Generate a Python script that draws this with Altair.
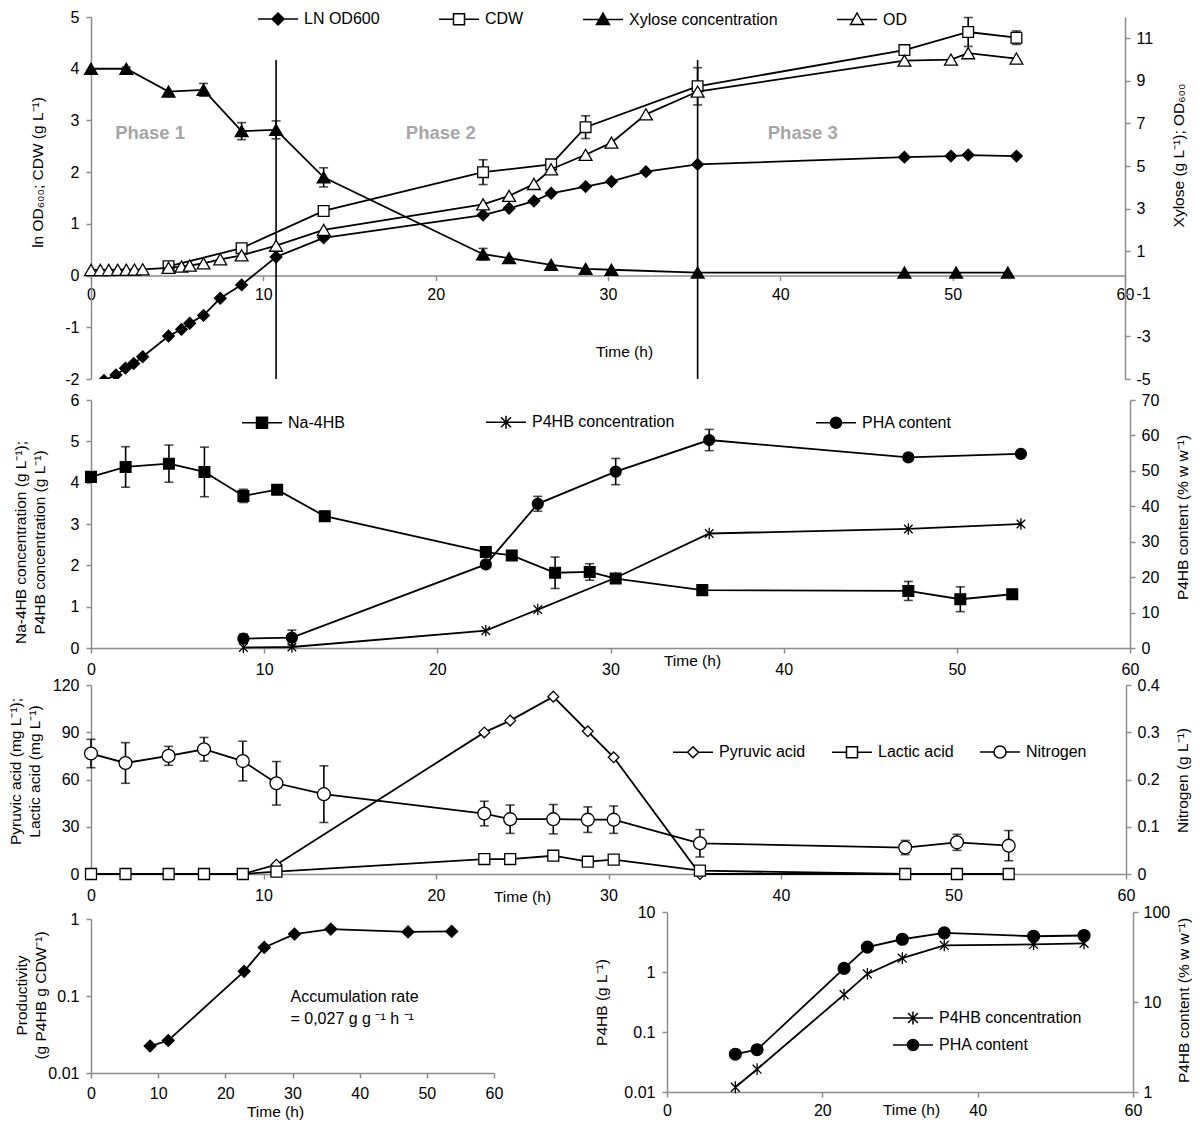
import altair as alt
import pandas as pd

FONT = "Liberation Sans"
AXIS_GREY = "#8c8c8c"
LINE_W = 1.8
MS = 1.3

# ---------------- Panel 1: growth ----------------
ln_t = [0.75, 1.45, 2.0, 2.48, 3.0, 4.5, 5.25, 5.73, 6.53, 7.5, 8.74, 10.74, 13.5,
        22.75, 24.26, 25.7, 26.7, 28.7, 30.2, 32.2, 35.2, 47.2, 49.9, 50.9, 53.7]
ln_v = [-2.03, -1.92, -1.79, -1.70, -1.57, -1.17, -1.04, -0.92, -0.77, -0.44, -0.18, 0.36, 0.73,
        1.17, 1.30, 1.44, 1.59, 1.72, 1.82, 2.01, 2.15, 2.29, 2.31, 2.33, 2.31]

od_t = [0, 0.54, 1.03, 1.55, 2.05, 2.52, 3.0, 4.5, 5.25, 5.73, 6.53, 7.5, 8.74, 10.74, 13.5,
        22.75, 24.26, 25.7, 26.7, 28.7, 30.2, 32.2, 35.2, 47.2, 49.9, 50.9, 53.7]
od_v = [0.12, 0.12, 0.12, 0.13, 0.13, 0.14, 0.15, 0.22, 0.28, 0.33, 0.43, 0.62, 0.81, 1.26, 2.0,
        3.2, 3.6, 4.16, 4.85, 5.53, 6.1, 7.43, 8.5, 9.95, 10.0, 10.3, 10.05]

cdw_t = [4.5, 8.74, 13.5, 22.75, 26.7, 28.7, 35.2, 47.2, 50.9, 53.7]
cdw_v = [0.18, 0.53, 1.25, 2.0, 2.15, 2.87, 3.66, 4.36, 4.71, 4.6]
cdw_e = [0, 0, 0, 0.24, 0, 0.22, 0.36, 0, 0.28, 0.13]

xyl_t = [0, 2.05, 4.5, 6.53, 8.74, 10.74, 13.5, 22.75, 24.26, 26.7, 28.7, 30.2, 35.2, 47.2, 50.2, 53.2]
xyl_v = [9.57, 9.57, 8.5, 8.58, 6.64, 6.7, 4.47, 0.86, 0.68, 0.36, 0.17, 0.13, 0.0, 0.0, 0.0, 0.0]
xyl_e = [0, 0.08, 0, 0.3, 0.4, 0.42, 0.45, 0.27, 0, 0, 0, 0, 0, 0, 0, 0]

phase_t = [10.74, 35.2]
phase_top = [4.17, 4.17]
phase_bottom = [-2, -2]
phase_label = ["Phase 1", "Phase 2", "Phase 3"]
phase_label_t = [3.43, 20.3, 41.3]
phase_label_v = [2.75, 2.75, 2.75]

# ---------------- Panels 2 & 3 ----------------
t_med = [0, 2.0, 4.5, 6.55, 8.8, 10.75, 13.5, 22.8, 24.3, 26.8, 28.8, 30.3, 35.3, 47.2, 50.2, 53.2]
na_v = [4.14, 4.38, 4.46, 4.26, 3.68, 3.83, 3.19, 2.32, 2.24, 1.82, 1.84, 1.68, 1.40, 1.38, 1.18, 1.30]
na_e = [0.05, 0.49, 0.45, 0.6, 0.16, 0.1, 0, 0.05, 0, 0.38, 0.2, 0, 0, 0.23, 0.3, 0]

t_pha = [8.8, 11.6, 22.8, 25.8, 30.3, 35.7, 47.2, 53.7]
p4hb_v = [0.012, 0.024, 0.42, 0.93, 1.70, 2.77, 2.88, 3.0]
pha_v = [2.63, 2.95, 23.6, 40.7, 49.8, 58.7, 53.8, 54.8]
pha_e = [1.3, 2.1, 0, 2.1, 3.7, 3.0, 0, 0]

pyr_v = [0, 0, 0, 0, 0, 5.9, None, 89.9, 97.4, 112.6, 90.6, 74.1, 0, 0, 0, 0]
lac_v = [0, 0, 0, 0, 0, 1.5, None, 9.5, 9.5, 11.6, 7.8, 9.1, 2.1, 0, 0, 0]
nit_v = [0.255, 0.235, 0.25, 0.264, 0.239, 0.192, 0.169, 0.128, 0.116, 0.116, 0.115, 0.115,
         0.065, 0.056, 0.067, 0.060]
nit_e = [0.03, 0.043, 0.02, 0.025, 0.042, 0.046, 0.06, 0.026, 0.03, 0.031, 0.027, 0.029,
         0.029, 0.015, 0.017, 0.032]

# ---------------- Panel 4 ----------------
prod_t = [8.8, 11.5, 22.8, 25.8, 30.3, 35.7, 47.2, 53.7]
prod_v = [0.0224, 0.0264, 0.209, 0.428, 0.637, 0.739, 0.68, 0.69]
ann_text = ["Accumulation rate", "= 0,027 g g \u207b\u00b9 h \u207b\u00b9"]
ann_t = [29.7, 29.7]
ann_v = [0.097, 0.0508]

# ---------------- layout ----------------
W1, H1 = 1034, 362
W2, H2 = 1039, 248
W3, H3 = 1035, 189
W4, H4 = 403, 161
W5, H5 = 466, 180

# marker paths
P_AST = "M-0.75,-0.75L0.75,0.75M-0.75,0.75L0.75,-0.75M0,-1V1"
L_DIA_F = "M-2,0H2M0,-0.6L0.6,0L0,0.6L-0.6,0Z"
L_SQ_O = "M-2,0H-0.55M0.55,0H2M-0.55,-0.55H0.55V0.55H-0.55Z"
L_TRI_F = "M-2,0H2M0,-0.65L0.65,0.5L-0.65,0.5Z"
L_TRI_O = "M-2,0H-0.37M0.37,0H2M0,-0.65L0.65,0.5L-0.65,0.5Z"
L_SQ_F = "M-2,0H2M-0.55,-0.55H0.55V0.55H-0.55Z"
L_AST = "M-2,0H2M-0.5,-0.5L0.5,0.5M-0.5,0.5L0.5,-0.5M0,-0.65V0.65"
L_CIR_F = "M-2,0H2M0.55,0A0.55,0.55,0,1,1,-0.55,0A0.55,0.55,0,1,1,0.55,0Z"
L_DIA_O = "M-2,0H-0.55M0.55,0H2M0,-0.55L0.55,0L0,0.55L-0.55,0Z"
L_CIR_O = "M-2,0H-0.6M0.6,0H2M0.6,0A0.6,0.6,0,1,1,-0.6,0A0.6,0.6,0,1,1,0.6,0Z"

LABEL_EXPR = "'' + datum.value"


def x_enc(values, titleX, titleY, offset=0, labelPadding=8):
    return alt.X("t:Q", scale=alt.Scale(domain=[0, 60], nice=False, zero=False),
                 axis=alt.Axis(values=values, title="Time (h)", titleX=titleX, titleY=titleY,
                               titleBaseline="middle", titleAlign="center", offset=offset,
                               labelPadding=labelPadding, labelFlush=False,
                               labelExpr=LABEL_EXPR))


def y_maker(domain, values, title, titleX, titleY, orient="left", stype="linear",
            labelPadding=7, rng=None):
    if rng is None:
        scale = alt.Scale(domain=domain, nice=False, zero=False, type=stype)
    else:
        scale = alt.Scale(domain=domain, nice=False, zero=False, type=stype, range=rng)
    axis = alt.Axis(orient=orient, values=values, title=title, titleX=titleX, titleY=titleY,
                    titleAngle=270, titleBaseline="middle", titleAlign="center",
                    titleLineHeight=19, labelExpr=LABEL_EXPR, labelPadding=labelPadding,
                    labelFlush=False)

    def f(field):
        return alt.Y(field, type="quantitative", scale=scale, axis=axis)
    return f


def series(x, yf, t, v, shape, fill, size, clip=False):
    rows = [(a, b) for a, b in zip(t, v) if b is not None]
    df = pd.DataFrame(rows, columns=["t", "v"])
    pt = alt.OverlayMarkDef(shape=shape, filled=True, fill=fill, stroke="black",
                            strokeWidth=MS, size=size, opacity=1, clip=clip)
    return alt.Chart(df).mark_line(color="black", strokeWidth=LINE_W, clip=clip,
                                   point=pt).encode(x=x, y=yf("v"))


def errbars(x, yf, t, v, e):
    rows = [(a, b - c, b + c) for a, b, c in zip(t, v, e) if c and c > 0]
    df = pd.DataFrame(rows, columns=["t", "lo", "hi"])
    return alt.Chart(df).mark_errorbar(ticks=True, size=9, thickness=1.6, color="black").encode(
        x=x, y=yf("lo"), y2=alt.Y2("hi"))


def legend_layer(names, paths, fills, lx, ly, direction="horizontal", colpad=60, rowpad=0):
    df = pd.DataFrame({"lg": names})
    leg = alt.Legend(title=None, orient="none", legendX=lx, legendY=ly, direction=direction,
                     columnPadding=colpad, rowPadding=rowpad, symbolSize=400,
                     symbolStrokeWidth=1.5, symbolStrokeColor="black", labelFont=FONT,
                     labelFontSize=16, labelColor="black", labelOffset=15, padding=0,
                     symbolOpacity=1)
    return alt.Chart(df).mark_point(filled=True, stroke="black", strokeWidth=1.5, opacity=1,
                                    size=400).encode(
        shape=alt.Shape("lg:N", scale=alt.Scale(domain=names, range=paths), legend=leg),
        fill=alt.Fill("lg:N", scale=alt.Scale(domain=names, range=fills), legend=leg),
        stroke=alt.Stroke("lg:N", scale=alt.Scale(domain=names, range=["black"] * len(names)),
                          legend=leg),
    ).transform_filter("false")


# ================= Panel 1 =================
X1 = x_enc(list(range(0, 61, 10)), 533, 76, offset=-H1 * 2 / 7, labelPadding=6)
Y1L = y_maker([-2, 5], list(range(-2, 6)), "ln OD\u2086\u2080\u2080; CDW (g L\u207b\u00b9)", -54, 155)
Y1R = y_maker([-5, 12], list(range(-5, 12, 2)), "Xylose (g L\u207b\u00b9); OD\u2086\u2080\u2080", 53, 138,
              orient="right", labelPadding=6)

rules_df = pd.DataFrame({"t": phase_t, "top": phase_top, "bot": phase_bottom})
rules1 = alt.Chart(rules_df).mark_rule(color="black", strokeWidth=1.6).encode(
    x=X1, y=Y1L("top"), y2=alt.Y2("bot"))
ptext_df = pd.DataFrame({"t": phase_label_t, "v": phase_label_v, "label": phase_label})
ptext = alt.Chart(ptext_df).mark_text(font=FONT, fontSize=18.5, fontWeight="bold",
                                      color="#a6a6a6").encode(x=X1, y=Y1L("v"), text="label:N")

left1 = alt.layer(
    rules1, ptext,
    errbars(X1, Y1L, cdw_t, cdw_v, cdw_e),
    series(X1, Y1L, ln_t, ln_v, "diamond", "black", 135, clip=True),
    series(X1, Y1L, cdw_t, cdw_v, "square", "white", 115),
)
right1 = alt.layer(
    errbars(X1, Y1R, xyl_t, xyl_v, xyl_e),
    series(X1, Y1R, xyl_t, xyl_v, "triangle-up", "black", 165),
    series(X1, Y1R, od_t, od_v, "triangle-up", "white", 165),
)
leg1 = legend_layer(["LN OD600", "CDW", "Xylose concentration", "OD"],
                    [L_DIA_F, L_SQ_O, L_TRI_F, L_TRI_O], ["black", "white", "black", "white"],
                    176, -9, colpad=56)
p1 = alt.layer(left1, right1, leg1).resolve_scale(y="independent").properties(width=W1, height=H1)

# ================= Panel 2 =================
X2 = x_enc(list(range(0, 61, 10)), 601, 12)
Y2L = y_maker([0, 6], list(range(0, 7)),
              ["Na-4HB concentration (g L\u207b\u00b9);", "P4HB concentration (g L\u207b\u00b9)"],
              -71, 142)
Y2R = y_maker([0, 70], list(range(0, 71, 10)), "P4HB content (% w w\u207b\u00b9)", 52, 117,
              orient="right", labelPadding=6)
left2 = alt.layer(
    errbars(X2, Y2L, t_med, na_v, na_e),
    series(X2, Y2L, t_med, na_v, "square", "black", 115),
    series(X2, Y2L, t_pha, p4hb_v, P_AST, "transparent", 130),
)
right2 = alt.layer(
    errbars(X2, Y2R, t_pha, pha_v, pha_e),
    series(X2, Y2R, t_pha, pha_v, "circle", "black", 120),
)
leg2 = legend_layer(["Na-4HB", "P4HB concentration", "PHA content"],
                    [L_SQ_F, L_AST, L_CIR_F], ["black", "transparent", "black"],
                    160, 11, colpad=138)
p2 = alt.layer(left2, right2, leg2).resolve_scale(y="independent").properties(width=W2, height=H2)

# ================= Panel 3 =================
X3 = x_enc(list(range(0, 61, 10)), 431, 22)
Y3L = y_maker([0, 120], list(range(0, 121, 30)),
              ["Pyruvic acid (mg L\u207b\u00b9);", "Lactic acid (mg L\u207b\u00b9)"], -76, 86)
Y3R = y_maker([0, 0.4], [0, 0.1, 0.2, 0.3, 0.4], "Nitrogen (g L\u207b\u00b9)", 56, 95,
              orient="right", labelPadding=6)
left3 = alt.layer(
    series(X3, Y3L, t_med, pyr_v, "diamond", "white", 115),
    series(X3, Y3L, t_med, lac_v, "square", "white", 120),
)
right3 = alt.layer(
    errbars(X3, Y3R, t_med, nit_v, nit_e),
    series(X3, Y3R, t_med, nit_v, "circle", "white", 165),
)
leg3 = legend_layer(["Pyruvic acid", "Lactic acid", "Nitrogen"],
                    [L_DIA_O, L_SQ_O, L_CIR_O], ["white", "white", "white"],
                    591, 56, colpad=23)
p3 = alt.layer(left3, right3, leg3).resolve_scale(y="independent").properties(width=W3, height=H3)

# ================= Panel 4 =================
X4 = x_enc(list(range(0, 61, 10)), 184, 38, labelPadding=7)
Y4 = y_maker([0.01, 1], [0.01, 0.1, 1], ["Productivity", "(g P4HB g CDW\u207b\u00b9)"], -70, 83,
             stype="log", rng=[H4, 7])
ann_df = pd.DataFrame({"t": ann_t, "v": ann_v, "txt": ann_text})
ann = alt.Chart(ann_df).mark_text(font=FONT, fontSize=16, align="left", baseline="middle",
                                  color="black").encode(x=X4, y=Y4("v"), text="txt:N")
p4 = alt.layer(
    series(X4, Y4, prod_t, prod_v, "diamond", "black", 140),
    ann,
).properties(width=W4, height=H4)

# ================= Panel 5 =================
X5 = x_enc([0, 20, 40, 60], 244, 17, labelPadding=5)
Y5L = y_maker([0.01, 10], [0.01, 0.1, 1, 10], "P4HB (g L\u207b\u00b9)", -66, 90, stype="log")
Y5R = y_maker([1, 100], [1, 10, 100], "P4HB content (% w w\u207b\u00b9)", 50, 88,
              orient="right", stype="log", labelPadding=5)
left5 = series(X5, Y5L, t_pha, p4hb_v, P_AST, "transparent", 140)
right5 = series(X5, Y5R, t_pha, pha_v, "circle", "black", 140)
leg5 = legend_layer(["P4HB concentration", "PHA content"], [L_AST, L_CIR_F],
                    ["transparent", "black"], 235, 95, direction="vertical", rowpad=6)
p5 = alt.layer(left5, right5, leg5).resolve_scale(y="independent").properties(width=W5, height=H5)


def indep(c):
    return c.resolve_scale(shape="independent", fill="independent",
                           stroke="independent").resolve_legend(
        shape="independent", fill="independent", stroke="independent")


row = indep(alt.hconcat(p4, p5, spacing=173, bounds="flush"))
lower = indep(alt.vconcat(p3, row, spacing=38, bounds="flush"))
mid = indep(alt.vconcat(p2, lower, spacing=37, bounds="flush"))
top = indep(alt.vconcat(p1, mid, spacing=21, bounds="flush"))

chart = (
    top.properties(padding={"left": 0, "top": 0, "right": 0, "bottom": 0})
    .configure(font=FONT)
    .configure_view(stroke=None)
    .configure_axis(grid=False, domainColor=AXIS_GREY, tickColor=AXIS_GREY, domainWidth=1.5,
                    tickWidth=1.5, tickSize=5, labelFont=FONT, labelFontSize=16,
                    labelColor="black", titleFont=FONT, titleFontSize=15.5,
                    titleFontWeight="normal", titleColor="black")
)

chart.save("out.html", embed_options={"renderer": "svg", "actions": False})
